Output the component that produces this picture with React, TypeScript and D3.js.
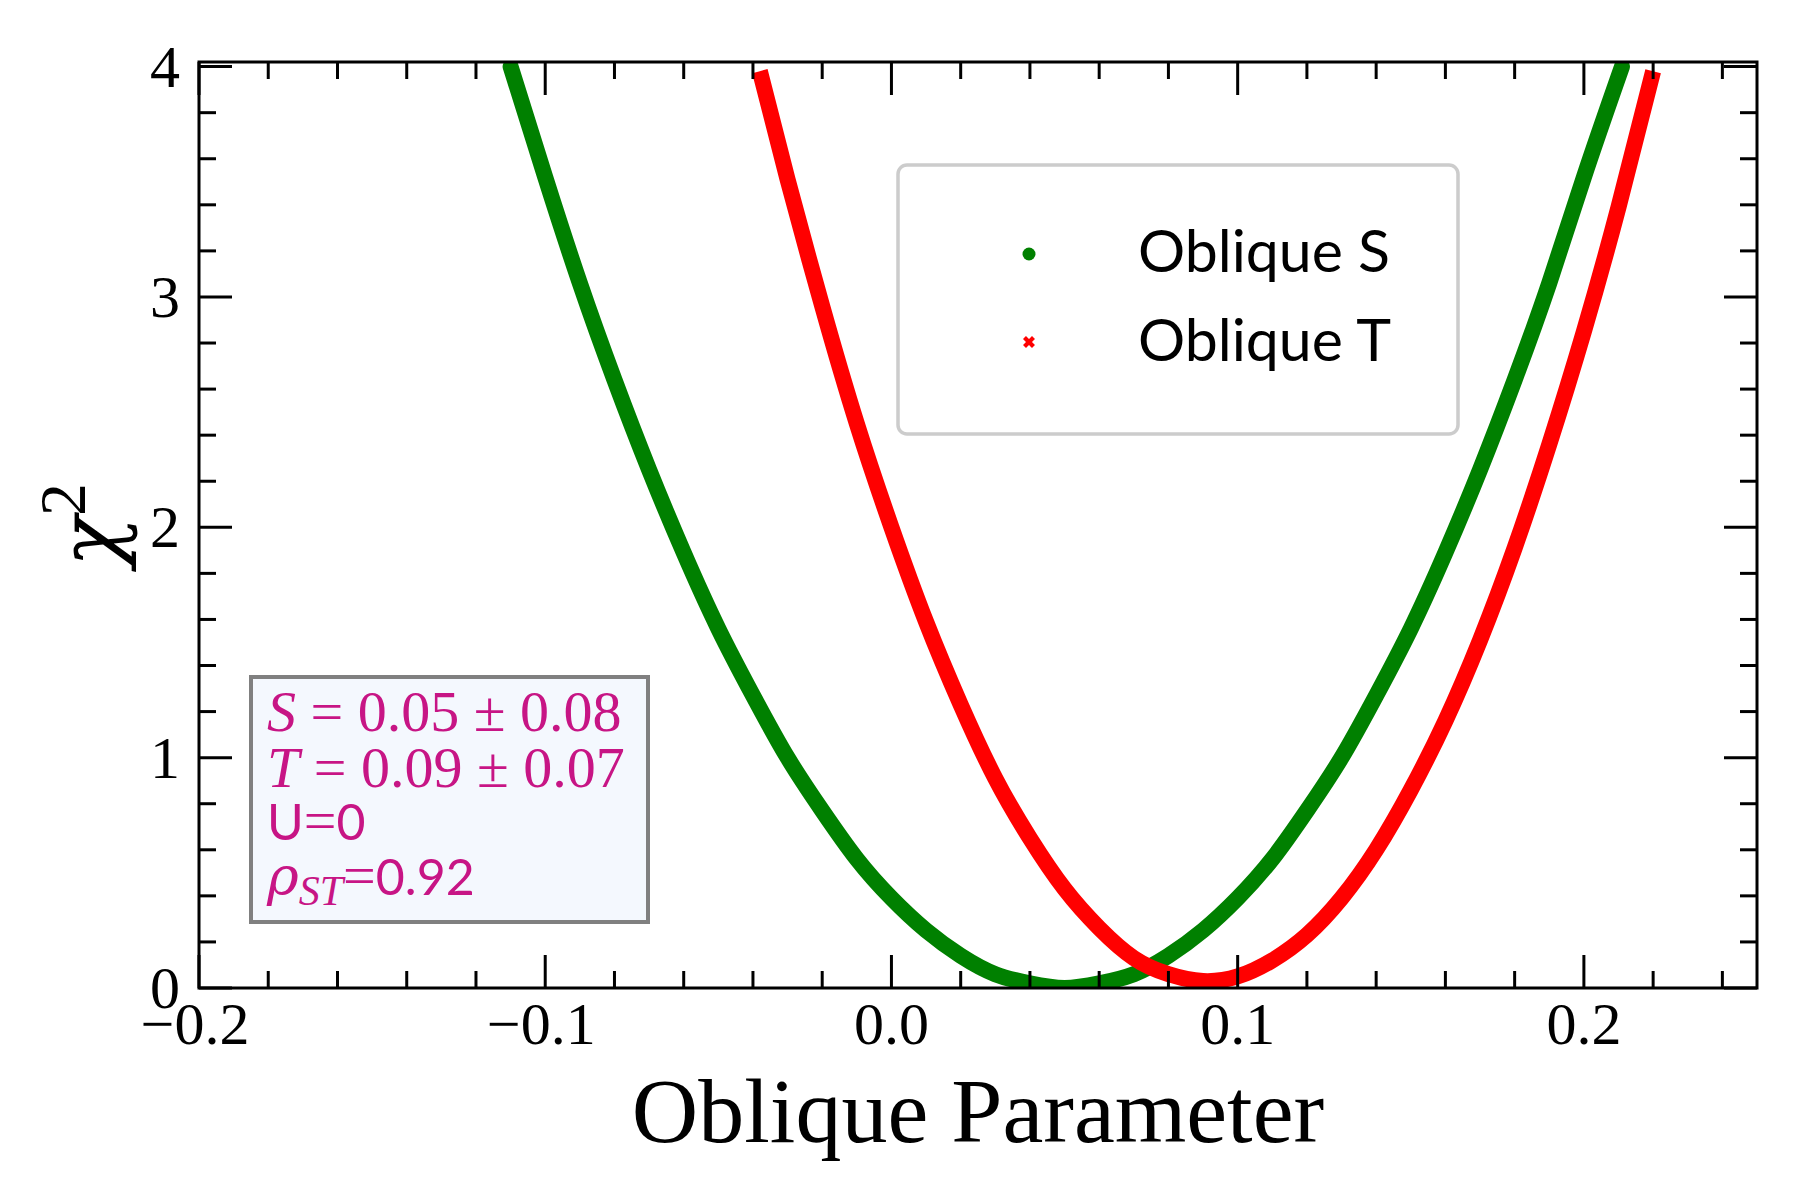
import { useMemo } from 'react';
import * as d3 from 'd3';

// chi^2 profiles
const sValues = [-0.11, -0.10, -0.09, -0.08, -0.07, -0.06, -0.05, -0.04, -0.03, -0.02, -0.01, 0.00, 0.01, 0.02, 0.03, 0.04, 0.05, 0.06, 0.07, 0.08, 0.09, 0.10, 0.11, 0.12, 0.13, 0.14, 0.15, 0.16, 0.17, 0.18, 0.19, 0.20, 0.211];
const sChi2 = [4.00, 3.52, 3.06, 2.64, 2.25, 1.89, 1.56, 1.27, 1.00, 0.77, 0.56, 0.39, 0.25, 0.14, 0.06, 0.02, 0.00, 0.02, 0.06, 0.14, 0.25, 0.39, 0.56, 0.77, 1.00, 1.27, 1.56, 1.89, 2.25, 2.64, 3.06, 3.52, 4.00];

const tValues = [-0.038, -0.03, -0.02, -0.01, 0.00, 0.01, 0.02, 0.03, 0.04, 0.05, 0.06, 0.07, 0.08, 0.09, 0.10, 0.11, 0.12, 0.13, 0.14, 0.15, 0.16, 0.17, 0.18, 0.19, 0.20, 0.21, 0.22];
const tChi2 = [3.98, 3.51, 2.96, 2.45, 2.00, 1.59, 1.23, 0.91, 0.65, 0.43, 0.26, 0.13, 0.06, 0.03, 0.05, 0.12, 0.23, 0.39, 0.60, 0.86, 1.16, 1.51, 1.91, 2.36, 2.85, 3.39, 3.98];

const xMajor = [-0.2, -0.1, 0.0, 0.1, 0.2];
const xTickLabels = ['\u22120.2', '\u22120.1', '0.0', '0.1', '0.2'];
const yMajor = [0, 1, 2, 3, 4];
const yTickLabels = ['0', '1', '2', '3', '4'];

const seriesNames = ['Oblique S', 'Oblique T'];
const seriesColors = ['#008000', '#ff0000'];

const W = 1800;
const H = 1200;
const left = 199, right = 1757, top = 62, bottom = 988;
const serif = '"Liberation Serif", "DejaVu Serif", serif';
const greek = '"DejaVu Serif", serif';
const sans = 'Lato, "Open Sans", "DejaVu Sans", sans-serif';
const magenta = '#C71585';

export default function App() {
    const x = useMemo(() => d3.scaleLinear().domain([-0.2, 0.25]).range([left, right]), []);
    const y = useMemo(() => d3.scaleLinear().domain([0, 4.02]).range([bottom, top]), []);

    const line = d3.line<[number, number]>()
        .x(d => x(d[0]))
        .y(d => y(d[1]))
        .curve(d3.curveNatural);

    const sPath = line(sValues.map((v, i) => [v, sChi2[i]] as [number, number])) ?? '';
    const tPath = line(tValues.map((v, i) => [v, tChi2[i]] as [number, number])) ?? '';

    const xMinor = d3.range(-0.2, 0.2501, 0.02).filter(v => !xMajor.some(m => Math.abs(m - v) < 1e-6));
    const yMinor = d3.range(0, 4.001, 0.2).filter(v => !yMajor.some(m => Math.abs(m - v) < 1e-6));

    const majorLen = 33, minorLen = 17;
    const tickStyle = { stroke: '#000', strokeWidth: 3 };

    const crossPath = d3.symbol(d3.symbolCross, 90)() ?? '';

    return (
        <svg width={W} height={H} style={{ position: 'absolute', left: 0, top: 0, background: '#fff' }}>
            <defs>
                <clipPath id="plot-clip">
                    <rect x={left} y={top} width={right - left} height={bottom - top} />
                </clipPath>
            </defs>
            <rect x={0} y={0} width={W} height={H} fill="#fff" />

            <g clipPath="url(#plot-clip)">
                <path d={sPath} fill="none" stroke={seriesColors[0]} strokeWidth={16} strokeLinecap="round" />
                <path d={tPath} fill="none" stroke={seriesColors[1]} strokeWidth={16} strokeLinecap="butt" />
            </g>

            {/* ticks, inward on all four sides */}
            <g>
                {xMajor.map(v => (
                    <g key={'xM' + v}>
                        <line x1={x(v)} x2={x(v)} y1={bottom} y2={bottom - majorLen} {...tickStyle} />
                        <line x1={x(v)} x2={x(v)} y1={top} y2={top + majorLen} {...tickStyle} />
                    </g>
                ))}
                {xMinor.map(v => (
                    <g key={'xm' + v}>
                        <line x1={x(v)} x2={x(v)} y1={bottom} y2={bottom - minorLen} {...tickStyle} />
                        <line x1={x(v)} x2={x(v)} y1={top} y2={top + minorLen} {...tickStyle} />
                    </g>
                ))}
                {yMajor.map(v => (
                    <g key={'yM' + v}>
                        <line x1={left} x2={left + majorLen} y1={y(v)} y2={y(v)} {...tickStyle} />
                        <line x1={right} x2={right - majorLen} y1={y(v)} y2={y(v)} {...tickStyle} />
                    </g>
                ))}
                {yMinor.map(v => (
                    <g key={'ym' + v}>
                        <line x1={left} x2={left + minorLen} y1={y(v)} y2={y(v)} {...tickStyle} />
                        <line x1={right} x2={right - minorLen} y1={y(v)} y2={y(v)} {...tickStyle} />
                    </g>
                ))}
            </g>

            <rect x={left} y={top} width={right - left} height={bottom - top} fill="none" stroke="#000" strokeWidth={3} />

            {/* tick labels */}
            <g fontFamily={serif} fontSize={60} fill="#000">
                {xMajor.map((v, i) => (
                    <text key={'xl' + v} x={x(v) - (v < 0 ? 4 : 0)} y={1044} textAnchor="middle">{xTickLabels[i]}</text>
                ))}
                {yMajor.map((v, i) => (
                    <text key={'yl' + v} x={180} y={y(v) + 20} textAnchor="end">{yTickLabels[i]}</text>
                ))}
            </g>

            {/* axis labels */}
            <text x={(left + right) / 2} y={1142} textAnchor="middle" fontFamily={serif} fontSize={92}>Oblique Parameter</text>
            <text transform={`translate(118,${(top + bottom) / 2}) rotate(-90)`} textAnchor="middle" fontFamily={serif} fontSize={94}>
                <tspan fontStyle="italic" fontFamily={greek} fontSize={84}>χ</tspan>
                <tspan fontSize={66} dy={-33}>2</tspan>
            </text>

            {/* legend */}
            <g>
                <rect x={898} y={165} width={560} height={269} rx={9} fill="#fff" stroke="#cccccc" strokeWidth={3.5} />
                <circle cx={1029} cy={254} r={6.5} fill={seriesColors[0]} />
                <path d={crossPath} transform="translate(1029,342) rotate(45)" fill={seriesColors[1]} />
                <text x={1138} y={272} fontFamily={sans} fontSize={59}>{seriesNames[0]}</text>
                <text x={1138} y={361} fontFamily={sans} fontSize={59}>{seriesNames[1]}</text>
            </g>

            {/* fit summary box */}
            <g fill={magenta}>
                <rect x={251} y={677} width={397} height={245} fill="#f4f8fe" stroke="#808080" strokeWidth={4} />
                <text x={267} y={731} fontFamily={serif} fontSize={58}>
                    <tspan fontStyle="italic">S</tspan> = 0.05 ± 0.08
                </text>
                <text x={267} y={787} fontFamily={serif} fontSize={58}>
                    <tspan fontStyle="italic">T</tspan> = 0.09 ± 0.07
                </text>
                <text x={267} y={840} fontFamily={sans} fontSize={50}>
                    U<tspan fontFamily={serif} fontSize={58}>=</tspan>0
                </text>
                <text x={267} y={895} fontFamily={serif} fontSize={58}>
                    <tspan fontStyle="italic" fontFamily={greek} fontSize={54}>ρ</tspan>
                    <tspan fontStyle="italic" fontSize={42} dy={10}>ST</tspan>
                    <tspan dy={-10}>=</tspan>
                    <tspan fontFamily={sans} fontSize={50}>0.92</tspan>
                </text>
            </g>
        </svg>
    );
}
